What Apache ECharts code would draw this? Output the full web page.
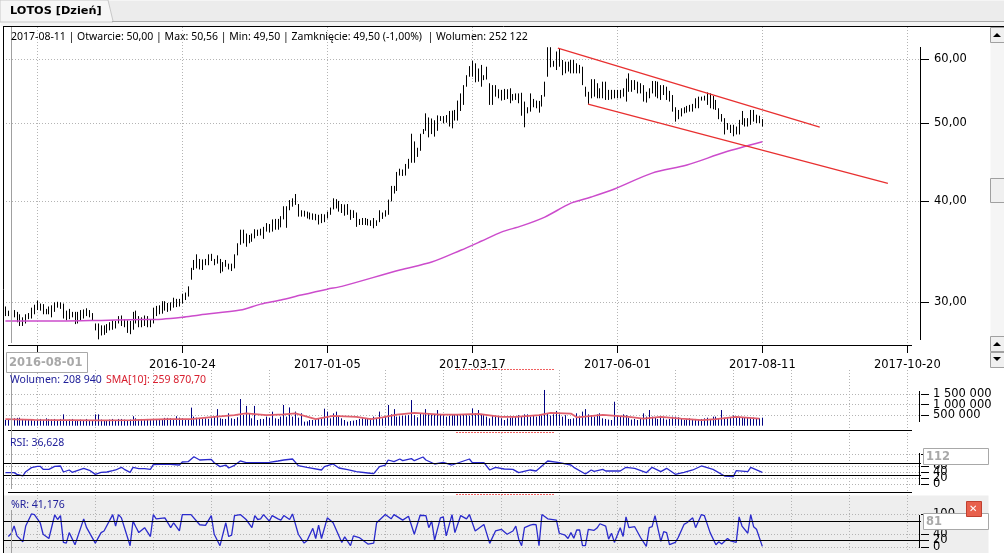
<!DOCTYPE html>
<html>
<head>
<meta charset="utf-8">
<style>
html, body { margin: 0; padding: 0; background: #fff; }
#main { width: 1004px; height: 553px; }
</style>
<script src="https://cdn.jsdelivr.net/npm/echarts@6/dist/echarts.min.js"></script>
</head>
<body>
<div id="main"></div>
<script>
var highs = [
29.65,29.3,29.3,29.35,29.2,29.0,28.75,29.0,29.1,29.55,29.8,30.15,29.9,29.85,29.45,29.65,29.75,30.0,30.05,30.0,
29.9,29.3,29.45,29.2,29.2,29.2,29.35,29.4,29.5,29.35,29.1,28.25,28.25,28.1,28.1,28.2,28.35,28.5,28.45,28.85,
28.9,28.6,28.5,28.45,29.2,29.3,28.85,28.75,28.9,28.85,28.55,29.55,29.7,29.75,30.1,30.1,29.95,30.0,30.4,30.3,
30.3,30.75,30.85,31.4,33.1,33.85,34.4,33.95,33.9,33.95,34.4,34.45,33.95,34.3,33.95,33.65,33.85,33.5,33.5,34.4,
35.5,36.9,36.9,36.5,36.35,36.5,36.95,36.9,37.0,37.2,37.6,37.5,38.0,38.05,38.05,38.35,39.45,39.45,40.15,40.35,
40.85,39.7,39.0,38.95,38.85,38.75,38.65,38.6,38.5,38.6,38.55,38.85,39.3,40.35,40.25,40.05,
39.7,39.65,39.7,39.05,39.0,38.75,38.05,38.15,38.15,38.05,37.9,38.15,37.9,39.0,38.75,39.0,40.2,41.8,41.8,43.5,
43.9,43.8,44.5,45.15,48.5,47.45,46.6,48.5,49.15,51.4,50.8,50.65,50.4,51.1,51.0,51.0,51.15,51.75,51.8,51.9,53.3,
54.4,55.7,57.3,58.8,59.7,59.27,58.4,59.0,57.3,58.7,56.0,55.7,55.7,55.05,54.95,55.1,55.05,55.2,54.3,54.4,
54.4,54.5,53.15,52.3,54.4,53.55,53.3,53.25,54.15,56.25,62.05,62.05,59.7,61.3,61.85,59.83,59.55,59.55,59.83,59.83,
59.27,59.0,58.7,55.45,54.65,56.65,56.65,56.0,55.2,56.25,56.25,54.95,54.95,54.95,54.95,54.95,55.2,56.75,57.6,56.5,
56.5,56.25,56.0,55.7,54.65,55.2,56.35,56.35,56.25,55.7,55.7,55.45,54.8,54.15,52.3,51.9,52.15,52.3,52.5,52.65,
52.8,53.65,53.9,53.9,54.05,54.55,54.4,54.0,53.4,52.15,51.3,50.7,50.0,49.75,49.75,49.5,50.45,51.75,50.7,50.7,
51.9,51.9,51.2,51.05,50.56
];
var lows = [
28.85,28.85,28.75,28.75,28.35,28.05,28.05,28.25,28.6,28.65,29.0,29.35,29.3,29.0,29.0,29.0,28.75,29.2,29.55,29.45,
28.65,28.5,28.6,28.75,28.2,28.25,28.45,28.65,28.85,28.75,28.5,27.7,27.0,27.3,27.35,27.5,27.7,27.75,27.85,28.25,
28.05,27.95,27.5,27.4,27.75,28.25,27.95,27.95,28.05,27.95,27.95,28.25,28.85,29.0,29.05,29.3,29.2,29.3,29.55,29.6,
29.65,29.9,30.2,30.5,32.0,32.9,33.05,32.95,32.9,33.35,33.35,33.75,33.35,33.5,32.6,32.75,33.2,32.95,32.8,33.05,
34.3,35.35,35.5,35.15,35.5,35.65,36.0,36.25,36.3,35.95,36.7,36.6,36.7,36.9,36.9,37.15,38.0,37.1,39.0,39.4,
39.6,38.3,38.3,38.3,38.1,38.0,37.95,37.9,37.45,37.6,37.7,38.1,38.5,39.1,39.2,38.85,
38.7,38.4,38.5,37.95,38.15,37.2,37.4,37.4,37.4,37.35,37.3,37.05,37.3,37.7,38.05,38.3,38.5,40.0,40.9,41.2,
43.05,43.0,43.05,43.9,44.65,44.65,45.4,46.2,48.45,48.9,48.0,48.45,48.1,48.9,50.3,49.95,50.05,49.5,49.25,50.35,50.35,
51.75,52.65,55.45,57.05,57.05,56.15,56.25,55.45,56.5,56.6,52.65,52.65,53.9,53.65,53.3,53.4,53.55,52.9,53.3,53.4,
52.9,51.05,49.4,51.4,51.65,52.3,52.15,51.5,52.4,53.9,57.05,58.6,58.7,58.15,58.7,57.3,57.6,57.9,57.6,57.6,
57.6,57.6,55.7,53.9,52.8,53.65,53.9,53.65,53.65,53.65,53.4,53.4,53.5,53.65,53.65,53.65,53.9,53.15,54.65,54.65,
54.95,54.4,54.4,53.15,53.0,53.65,54.4,53.9,53.65,53.4,54.15,53.4,53.15,51.65,50.2,50.55,50.95,51.4,51.5,51.65,
51.65,52.15,52.15,53.3,53.3,52.65,52.15,52.0,51.9,50.55,50.2,48.4,49.05,48.6,48.15,48.4,48.4,49.75,49.5,49.5,
49.75,50.2,50.0,50.0,49.5
];

// SMA na wykresie ceny, odczytane co kilka sesji
var maIdx = [0,19,33,43,54,61,67,81,88,95,102,111,116,136,147,157,164,171,178,186,195,202,210,223,235,248,261];
var maVal = [28.45,28.45,28.5,28.55,28.6,28.75,28.95,29.35,29.85,30.2,30.63,31.15,31.4,32.9,33.65,34.8,35.7,36.65,37.3,38.25,39.8,40.5,41.43,43.35,44.36,46.0,47.4];

// linie trendu (kanal)
var upperIdx = [190.5,280.8];
var upperVal = [61.9,49.43];
var lowerIdx = [200.9,304.3];
var lowerVal = [52.78,42.1];

var volumes = [
270,320,370,350,370,380,320,270,270,290,240,270,320,270,350,320,290,320,270,320,
540,270,290,320,270,270,290,270,320,270,270,540,540,290,270,240,290,320,270,320,
320,290,270,290,450,350,290,320,270,320,270,290,320,320,290,370,370,350,320,450,
380,350,320,320,860,430,380,350,320,350,320,350,430,790,350,320,320,590,350,320,
400,1270,510,940,555,350,940,270,320,320,430,380,667,350,320,430,985,430,870,430,
670,380,590,190,205,270,270,320,320,350,810,670,350,587,667,430,
350,270,190,220,240,270,320,350,350,320,350,430,350,670,350,430,985,540,790,430,
450,470,480,500,1220,500,400,590,540,790,590,530,540,745,560,500,430,480,500,520,
540,500,530,500,480,825,590,745,560,500,430,350,480,480,430,350,270,350,380,400,
430,500,430,540,540,430,500,430,500,500,1700,590,480,540,700,540,430,500,320,320,
350,590,430,670,790,540,500,430,540,590,350,320,290,270,1140,500,430,540,500,380,
290,320,270,350,587,430,745,430,400,320,430,350,290,320,430,430,400,350,270,320,
350,320,320,290,320,350,380,320,430,430,320,745,380,350,400,480,430,400,400,380,
380,350,380,350,350,380
];
var volSmaIdx = [0,10,21,33,44,56,64,72,79,83,90,96,100,107,113,121,126,130,135,141,150,156,163,171,176,184,188,195,197,206,215,220,226,233,240,245,252,260];
var volSmaVal = [310,280,265,250,265,310,310,420,500,590,500,540,590,310,465,420,310,390,530,605,530,530,560,420,420,500,605,575,400,510,420,340,420,340,265,310,420,340];

var rsiIdx = [0,3,4,6,7,9,11,12,13,15,17,19,20,22,23,26,27,29,31,33,35,37,38,40,41,43,44,46,48,50,51,53,57,60,61,63,65,67,71,72,74,76,77,79,81,83,88,
91,94,96,99,101,104,109,110,113,115,118,121,125,127,129,131,132,134,136,137,140,141,144,145,148,151,154,160,161,165,167,169,172,175,177,
181,183,187,191,195,196,200,202,203,206,207,212,214,217,221,223,226,228,231,234,237,240,244,248,251,252,256,257,261];
var rsiVal = [38.8,38.8,33,27.7,42,55.5,60,60,50,50,60,61,41,47.7,39.9,50,53.2,46.6,33,39.9,41,45.4,47.7,56.6,50,39.9,56.6,52,52,50,65.4,66.6,66.6,64.3,74.3,75.4,92,81,83,72,58.8,64.3,54.3,63.2,77.7,72,72,
73.2,77.7,81,84.3,62.1,56.6,47.7,58.8,67.7,54.3,48.8,42.1,37.7,35.5,58.8,64.3,81,75.4,84.3,78.8,85.5,78.8,91,81,67.7,73.2,64.3,84.3,72,72,47.7,56.6,51,49.9,38.8,
47.7,44.3,77.7,72,64.3,56.6,34.3,47.7,43.2,49.9,44.3,44.3,56.6,53.2,38.8,56.6,42.1,53.2,33.2,39.9,47.7,61,49.9,27.7,25.5,45.4,42.1,56.6,39.9];

var wrIdx = [1,2,3,4,6,7,9,10,12,13,15,17,18,19,20,21,22,24,27,28,31,33,34,37,38,39,40,43,44,45,46,48,50,51,52,55,57,58,60,61,64,67,69,71,72,74,76,77,78,79,81,83,85,86,87,88,
89,91,92,94,95,96,98,99,101,103,104,106,107,108,109,111,113,116,117,119,120,122,125,127,128,131,133,134,137,139,141,143,145,146,147,148,150,151,152,154,155,157,159,160,162,165,167,169,171,173,175,176,177,
178,179,181,182,183,184,185,187,190,191,193,194,195,196,197,198,199,200,201,203,204,205,207,208,209,210,212,213,214,215,217,219,221,222,223,224,226,227,228,229,231,232,234,235,237,238,240,241,243,245,246,247,249,250,252,253,254,256,257,258,259,261];
var wrVal = [32,41,64,34,16,64,101,99,74,39,26,98,84,96,14,12,44,7,86,59,12,44,49,99,64,99,89,4,79,61,44,59,32,99,86,89,59,74,49,99,99,68,66,96,39,4,74,32,36,96,99,84,59,96,84,86,
99,79,96,86,82,96,84,101,39,12,19,57,26,67,26,89,74,14,31,4,34,29,9,12,74,99,86,99,82,94,39,97,96,59,79,21,89,92,34,99,44,96,86,99,49,69,11,49,54,39,49,64,24,
4,59,67,69,68,4,99,86,82,42,36,26,44,27,52,52,4,4,54,51,58,71,64,24,42,14,59,32,92,59,62,29,2,59,62,96,17,47,44,7,14,29,69,74,89,59,99,96,44,7,16,9,26,19,14,92,64,42,99,62,54,2];

var priceTicks = [30,40,50,60];
var dateTickIdx = [61,111,161,211,261,311];
var dateLabels = ['2016-10-24','2017-01-05','2017-03-17','2017-06-01','2017-08-11','2017-10-20'];
// etykiety na siebie nachodza, wiec druga polowa idzie na osobna os
var volTicks = [500000,1500000];
var volTicksB = [1000000];
var rsiTicks = [0,40,100];
var rsiTicksB = [20,60];
var wrTicks = [0,40,100];
var wrTicksB = [20];

var FONT = '"DejaVu Sans", sans-serif';
var HEADER_FONT = '"Noto Sans", sans-serif';

// pionowa kreska na jedna sesje
function stick(params, api) {
    var a = api.coord([api.value(0), api.value(1)]);
    var b = api.coord([api.value(0), api.value(2)]);
    var x = Math.round(a[0] - 0.5) + 0.5;
    return {
        type: 'line',
        shape: {x1: x, y1: a[1], x2: x, y2: b[1]},
        style: {stroke: api.visual('color'), lineWidth: 1}
    };
}

function zipXY(xs, ys) {
    return xs.map(function (x, i) { return [x, ys[i]]; });
}

function xAxisFor(gridIndex, ticks) {
    return {
        type: 'value', gridIndex: gridIndex,
        min: -0.83, max: 315.72,
        axisLine: {show: false, onZero: false},
        axisTick: {show: false, customValues: ticks},
        axisLabel: {show: false},
        splitLine: {show: true, lineStyle: {color: '#b4b4b4', type: [1, 2], width: 1}}
    };
}

function yAxisFor(gridIndex, min, max, ticks, fmt) {
    return {
        type: 'value', gridIndex: gridIndex, position: 'right',
        min: min, max: max,
        axisLine: {show: false, onZero: false},
        axisTick: {show: true, length: 8, inside: false, customValues: ticks, lineStyle: {color: '#000'}},
        axisLabel: {
            show: true, margin: 12, customValues: ticks, color: '#000', fontFamily: FONT, fontSize: 11.5,
            hideOverlap: false, interval: 0, showMinLabel: true, showMaxLabel: true, formatter: fmt
        },
        splitLine: {show: true, lineStyle: {color: '#b4b4b4', type: [1, 2], width: 1}}
    };
}

function hline(x1, x2, y, color, dash) {
    return {type: 'line', z: 50, shape: {x1: x1, y1: y + 0.5, x2: x2, y2: y + 0.5}, style: {stroke: color, lineWidth: 1, lineDash: dash}};
}
function vline(x, y1, y2, color) {
    return {type: 'line', z: 50, shape: {x1: x + 0.5, y1: y1, x2: x + 0.5, y2: y2}, style: {stroke: color, lineWidth: 1}};
}
function box(x, y, w, h, fill, stroke, z) {
    return {type: 'rect', z: z, shape: {x: x + 0.5, y: y + 0.5, width: w, height: h}, style: {fill: fill, stroke: stroke, lineWidth: stroke ? 1 : 0}};
}
function label(x, y, text, color, font, size, weight) {
    return {type: 'text', z: 60, x: x, y: y, style: {text: text, fill: color, font: (weight || 'normal') + ' ' + size + 'px ' + font, textVerticalAlign: 'middle', verticalAlign: 'middle'}};
}

var graphics = [
    // tlo paska z zakladka
    box(0, 0, 1004, 22, '#ececec', null, -1),
    box(0, 21, 1004, 5, '#f4f4f4', null, -1),
    hline(112, 1004, 21, '#a8a8a8'),
    {type: 'polygon', z: 40, shape: {points: [[0, 0], [108, 0], [113, 21], [113, 22], [0, 22]]}, style: {fill: '#f6f6f6', stroke: '#c8c8c8', lineWidth: 1}},
    label(10, 11, 'LOTOS [Dzień]', '#000', FONT, 11.3, 'bold'),
    box(3, 495, 985, 58, '#eeeeee', null, -1),
    // ramka
    hline(3, 1004, 26, '#000'),
    vline(3, 26, 553, '#000'),
    hline(8, 912, 345, '#000'),
    hline(8, 912, 430, '#000'),
    hline(8, 912, 492, '#000'),
    // osie pionowe
    vline(920, 47, 340, '#000'),
    vline(919, 391, 422, '#000'),
    vline(919, 453, 485, '#000'),
    vline(919, 515, 548, '#000'),
    // krzyz kursora
    vline(11, 27, 343, '#a0a0a0'),
    vline(11, 370, 489, '#a0a0a0'),
    vline(11, 510, 553, '#a0a0a0'),
    // czerwone kropki
    hline(456, 554, 369, '#f06060', [2, 1]),
    hline(456, 554, 432, '#f06060', [2, 1]),
    hline(456, 554, 494, '#f06060', [2, 1]),
    // teksty
    label(11, 37, '2017-08-11 | Otwarcie: 50,00 | Max: 50,56 | Min: 49,50 | Zamknięcie: 49,50 (-1,00%)  | Wolumen: 252 122', '#000', HEADER_FONT, 10.5),
    label(10, 380, 'Wolumen: 208 940', '#20209a', HEADER_FONT, 10.5),
    label(106, 380, 'SMA[10]: 259 870,70', '#d82030', HEADER_FONT, 10.5),
    label(10, 443, 'RSI: 36,628', '#20209a', HEADER_FONT, 10.5),
    label(11, 505, '%R: 41,176', '#20209a', HEADER_FONT, 10.5),
    // pasek przewijania
    box(990, 27, 14, 340, '#f5f5f5', null, 30),
    box(990, 27, 14, 15, '#f0f0f0', '#a0a0a0', 31),
    box(990, 178, 14, 24, '#f0f0f0', '#a0a0a0', 31),
    box(990, 336, 14, 15, '#f0f0f0', '#a0a0a0', 31),
    box(990, 352, 14, 15, '#f0f0f0', '#a0a0a0', 31),
    {type: 'polygon', z: 32, shape: {points: [[993, 37], [1001, 37], [997, 33]]}, style: {fill: '#000'}},
    {type: 'polygon', z: 32, shape: {points: [[993, 346], [1001, 346], [997, 342]]}, style: {fill: '#000'}},
    {type: 'polygon', z: 32, shape: {points: [[993, 357], [1001, 357], [997, 361]]}, style: {fill: '#000'}},
    // etykiety kursora
    box(6, 352, 81, 20, '#fff', '#a8a8a8', 55),
    label(9, 363, '2016-08-01', '#a8a8a8', FONT, 11.5, 'bold'),
    box(923, 448, 65, 16, '#fff', '#a8a8a8', 55),
    label(926, 457, '112', '#a8a8a8', FONT, 11.5, 'bold'),
    box(923, 513, 65, 16, '#fff', '#a8a8a8', 55),
    label(926, 522, '81', '#a8a8a8', FONT, 11.5, 'bold'),
    // przycisk zamkniecia
    box(966, 501, 15, 15, '#e8604c', '#c04030', 55),
    label(969, 509, '✕', '#fff', FONT, 10, 'bold')
];

function volFmt(v) {
    return String(v).replace(/\B(?=(\d{3})+$)/g, ' ');
}
function plainFmt(v) {
    return v;
}

var subTicks = [11,31,51,71,91,111,131,151,171,191,211,231,251,271,291,311];

var myChart = echarts.init(document.getElementById('main'), null, {renderer: 'canvas'});

var option = {
    animation: false,
    backgroundColor: '#fff',
    grid: [
        {left: 3, width: 918, top: 27, height: 318},
        {left: 3, width: 918, top: 370, height: 60},
        {left: 3, width: 918, top: 430, height: 62},
        {left: 3, width: 918, top: 492, height: 61}
    ],
    xAxis: [
        {
            type: 'value', gridIndex: 0, min: -0.83, max: 315.72,
            axisLine: {show: false, onZero: false},
            axisTick: {show: true, length: 8, customValues: [11].concat(dateTickIdx), lineStyle: {color: '#000'}},
            axisLabel: {
                show: true, margin: 14, color: '#000', fontFamily: FONT, fontSize: 11.5,
                customValues: dateTickIdx,
                formatter: function (v) { return dateLabels[dateTickIdx.indexOf(v)]; }
            },
            splitLine: {show: true, lineStyle: {color: '#b4b4b4', type: [1, 2], width: 1}}
        },
        xAxisFor(1, subTicks),
        xAxisFor(2, subTicks),
        xAxisFor(3, subTicks)
    ],
    yAxis: [
        {
            type: 'log', logBase: 10, gridIndex: 0, position: 'right', min: 26.57, max: 65.73,
            axisLine: {show: false, onZero: false},
            axisTick: {show: true, length: 8, customValues: priceTicks, lineStyle: {color: '#000'}},
            axisLabel: {
                show: true, margin: 13, color: '#000', fontFamily: FONT, fontSize: 11.5,
                customValues: priceTicks,
                formatter: function (v) { return v.toFixed(2).replace('.', ','); }
            },
            splitLine: {show: true, lineStyle: {color: '#b4b4b4', type: [1, 2], width: 1}}
        },
        yAxisFor(1, -206000, 2651000, volTicks, volFmt),
        yAxisFor(2, -25.67, 181, rsiTicks, plainFmt),
        yAxisFor(3, -15, 168, wrTicks, plainFmt),
        yAxisFor(1, -206000, 2651000, volTicksB, volFmt),
        yAxisFor(2, -25.67, 181, rsiTicksB, plainFmt),
        yAxisFor(3, -15, 168, wrTicksB, plainFmt)
    ],
    series: [
        {
            type: 'custom', xAxisIndex: 0, yAxisIndex: 0, itemStyle: {color: '#000'},
            renderItem: stick, encode: {x: 0, y: [1, 2]},
            data: highs.map(function (h, i) { return [i, h, lows[i]]; })
        },
        {
            type: 'line', xAxisIndex: 0, yAxisIndex: 0, showSymbol: false, z: 3, smooth: 0.3,
            lineStyle: {color: '#cc4ccc', width: 1.5}, data: zipXY(maIdx, maVal)
        },
        {
            type: 'line', xAxisIndex: 0, yAxisIndex: 0, showSymbol: false, z: 4,
            lineStyle: {color: '#e83030', width: 1.3}, data: zipXY(upperIdx, upperVal)
        },
        {
            type: 'line', xAxisIndex: 0, yAxisIndex: 0, showSymbol: false, z: 4,
            lineStyle: {color: '#e83030', width: 1.3}, data: zipXY(lowerIdx, lowerVal)
        },
        {
            type: 'custom', xAxisIndex: 1, yAxisIndex: 1, itemStyle: {color: '#000080'},
            renderItem: stick, encode: {x: 0, y: [1, 2]},
            data: volumes.map(function (v, i) { return [i, v * 1000, 0]; })
        },
        {
            type: 'line', xAxisIndex: 1, yAxisIndex: 1, showSymbol: false, z: 4,
            lineStyle: {color: '#e0606e', width: 1.8},
            data: zipXY(volSmaIdx, volSmaVal.map(function (v) { return v * 1000; }))
        },
        {
            type: 'line', xAxisIndex: 2, yAxisIndex: 2, showSymbol: false, z: 4,
            lineStyle: {color: '#2a2acc', width: 1.3}, data: zipXY(rsiIdx, rsiVal),
            markLine: {
                silent: true, symbol: 'none', label: {show: false}, animation: false,
                lineStyle: {color: '#000', type: 'solid', width: 1},
                data: [{yAxis: 70}, {yAxis: 30}]
            }
        },
        {
            type: 'line', xAxisIndex: 3, yAxisIndex: 3, showSymbol: false, z: 4,
            lineStyle: {color: '#2a2acc', width: 1.3}, data: zipXY(wrIdx, wrVal),
            markLine: {
                silent: true, symbol: 'none', label: {show: false}, animation: false,
                lineStyle: {color: '#000', type: 'solid', width: 1},
                data: [{yAxis: 80}, {yAxis: 20}]
            }
        }
    ],
    graphic: {elements: graphics}
};

myChart.setOption(option);
window.onresize = myChart.resize;
</script>
</body>
</html>
